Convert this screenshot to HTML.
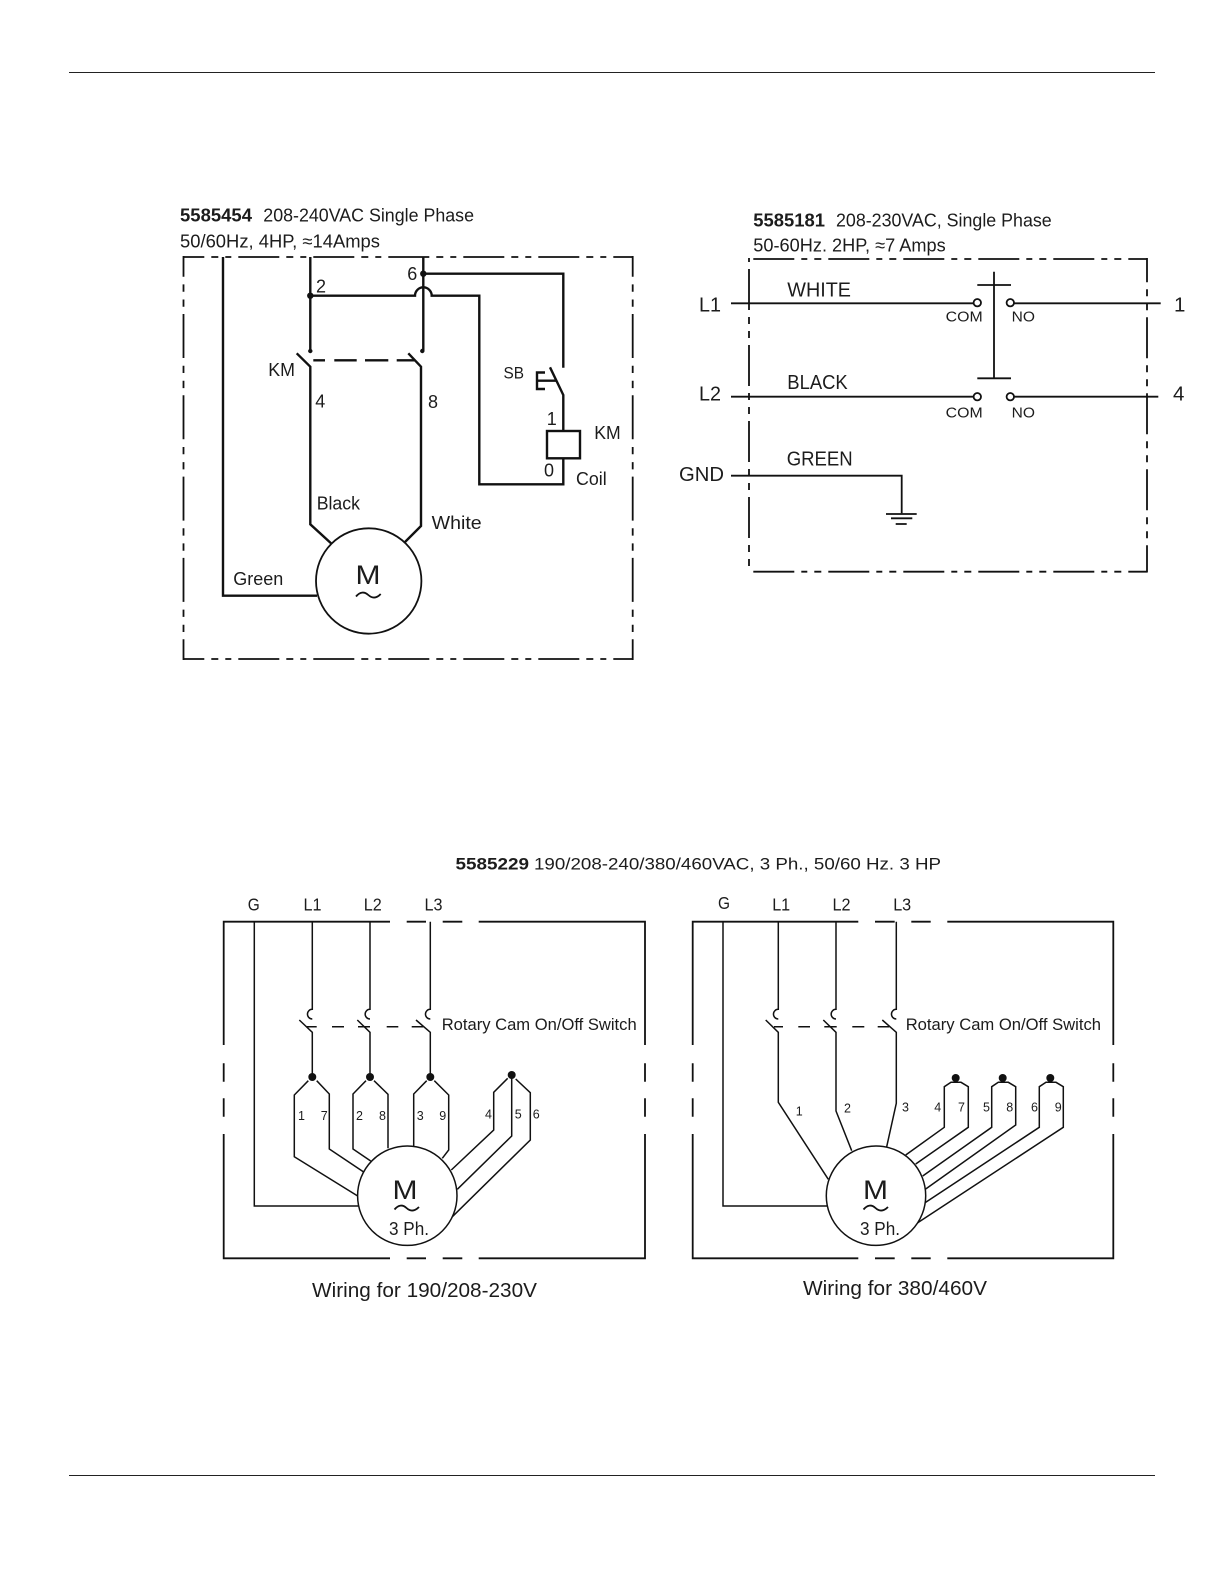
<!DOCTYPE html>
<html><head><meta charset="utf-8"><style>
html,body{margin:0;padding:0;background:#fff}
svg{display:block}
text{font-family:"Liberation Sans",sans-serif;fill:#1c1c1c}
.w{fill:none;stroke:#111;stroke-width:2.4}
.t{fill:none;stroke:#111;stroke-width:1.5}
.m{fill:none;stroke:#111;stroke-width:1.8}
.d{fill:#111;stroke:none}
.c{fill:#fff;stroke:#111;stroke-width:1.8}
</style></head><body>
<svg xmlns="http://www.w3.org/2000/svg" width="1224" height="1584" viewBox="0 0 1224 1584">
<rect width="1224" height="1584" fill="#fff"/>
<rect x="69" y="72" width="1086" height="1" fill="#222"/>
<rect x="69" y="1475" width="1086" height="1" fill="#222"/>

<!-- Diagram 1 -->
<g class="m">
<line x1="183.5" y1="257" x2="632.7" y2="257" stroke-dasharray="41 7 7 7 6 7" stroke-dashoffset="20.2"/>
<line x1="183.5" y1="659" x2="632.7" y2="659" stroke-dasharray="41 7 7 7 6 7" stroke-dashoffset="20.2"/>
<line x1="183.5" y1="256" x2="183.5" y2="660" stroke-dasharray="44 7.7 7.3 7.8 7.3 7.2" stroke-dashoffset="23.3"/>
<line x1="632.7" y1="256" x2="632.7" y2="660" stroke-dasharray="44 7.7 7.3 7.8 7.3 7.2" stroke-dashoffset="23.3"/>
</g>
<g class="w">
<path d="M223 257V595.7H317"/>
<path d="M310.3 257V351"/>
<path d="M423.3 257V351"/>
<path d="M423.3 273.7H563.3V367.7"/>
<path d="M310.3 295.7H415A8.3 8.3 0 0 1 431.7 295.7H479.3V484.3H563.3V458.3"/>
<path d="M296.7 353.3L310.3 366.7V524.3L331 543.3"/>
<path d="M408.3 353.3L421 366.7V526L405 542"/>
<path d="M313.3 360.3H325M334.3 360.3H356.7M365 360.3H388.3M396.7 360.3H415"/>
<path d="M545 372.5H537V389H545M537 380.7H557"/>
<path d="M550 367.3L563.3 395V431"/>
</g>
<circle cx="310.3" cy="295.7" r="3.2" class="d"/>
<circle cx="423.3" cy="273.7" r="3.2" class="d"/>
<circle cx="310.3" cy="351" r="2.2" class="d"/>
<circle cx="422.3" cy="351" r="2.2" class="d"/>
<rect x="547" y="431" width="33" height="27.3" fill="#fff" stroke="#111" stroke-width="2.4"/>
<circle cx="368.7" cy="581" r="52.7" class="c"/>
<path class="m" d="M356 596.5q6-7 12.3-1.5t12.4-1"/>
<text x="180" y="221.7" font-size="18.5" font-weight="700" textLength="72" lengthAdjust="spacingAndGlyphs">5585454</text>
<text x="263.3" y="221.7" font-size="18.5" textLength="210.7" lengthAdjust="spacingAndGlyphs">208-240VAC Single Phase</text>
<text x="180" y="247.3" font-size="18.5" textLength="200" lengthAdjust="spacingAndGlyphs">50/60Hz, 4HP, ≈14Amps</text>
<text x="316" y="292.7" font-size="18">2</text>
<text x="407.3" y="280" font-size="18">6</text>
<text x="268.3" y="376" font-size="18" textLength="26.7" lengthAdjust="spacingAndGlyphs">KM</text>
<text x="315.3" y="407.7" font-size="18">4</text>
<text x="428" y="408" font-size="18">8</text>
<text x="503.5" y="378.3" font-size="17" textLength="20.5" lengthAdjust="spacingAndGlyphs">SB</text>
<text x="546.7" y="425" font-size="18">1</text>
<text x="594.3" y="439" font-size="18" textLength="26.4" lengthAdjust="spacingAndGlyphs">KM</text>
<text x="544" y="476.7" font-size="18">0</text>
<text x="576" y="485" font-size="18" textLength="30.7" lengthAdjust="spacingAndGlyphs">Coil</text>
<text x="316.7" y="509.3" font-size="18" textLength="43.3" lengthAdjust="spacingAndGlyphs">Black</text>
<text x="431.7" y="529" font-size="18" textLength="50" lengthAdjust="spacingAndGlyphs">White</text>
<text x="233.3" y="585" font-size="18" textLength="50" lengthAdjust="spacingAndGlyphs">Green</text>
<text x="355.5" y="584" font-size="27" textLength="25" lengthAdjust="spacingAndGlyphs">M</text>

<!-- Diagram 2 -->
<g class="m">
<line x1="749" y1="259" x2="1147" y2="259" stroke-dasharray="41 7 6 7 7 7" stroke-dashoffset="-4.3"/>
<line x1="749" y1="571.7" x2="1147" y2="571.7" stroke-dasharray="41 7 6 7 7 7" stroke-dashoffset="-4.3"/>
<line x1="749" y1="258" x2="749" y2="571.7" stroke-dasharray="41 7 7 7 7 7" stroke-dashoffset="65"/>
<line x1="1147" y1="258" x2="1147" y2="572.5" stroke-dasharray="41 7 7 7 7 7" stroke-dashoffset="16.7"/>
</g>
<g class="m">
<path d="M731 303.3H973.5M1014 303.3H1160.7"/>
<path d="M731 396.7H973.5M1014 396.7H1158.3"/>
<path d="M731 475.7H901.7V513.3"/>
<path d="M994 271.7V378.3M977.3 285H1011M977.3 378.3H1011"/>
<path d="M886 514H916.7M891 518.3H912.3M895.7 524H906.7"/>
</g>
<circle cx="977.3" cy="302.7" r="3.7" class="c"/>
<circle cx="1010.3" cy="302.7" r="3.7" class="c"/>
<circle cx="977.3" cy="396.7" r="3.7" class="c"/>
<circle cx="1010.3" cy="396.7" r="3.7" class="c"/>
<text x="753.3" y="226.7" font-size="18.5" font-weight="700" textLength="71.7" lengthAdjust="spacingAndGlyphs">5585181</text>
<text x="836" y="226.7" font-size="18.5" textLength="215.7" lengthAdjust="spacingAndGlyphs">208-230VAC, Single Phase</text>
<text x="753.3" y="251.7" font-size="18.5" textLength="192.4" lengthAdjust="spacingAndGlyphs">50-60Hz. 2HP, ≈7 Amps</text>
<text x="699" y="311.7" font-size="20" textLength="22" lengthAdjust="spacingAndGlyphs">L1</text>
<text x="699" y="400.7" font-size="20" textLength="22" lengthAdjust="spacingAndGlyphs">L2</text>
<text x="679" y="481" font-size="20" textLength="45" lengthAdjust="spacingAndGlyphs">GND</text>
<text x="1174" y="311.7" font-size="20.5">1</text>
<text x="1173" y="400.7" font-size="20.5">4</text>
<text x="787.3" y="296.7" font-size="20.5" textLength="63.7" lengthAdjust="spacingAndGlyphs">WHITE</text>
<text x="787.3" y="389" font-size="20.5" textLength="60.4" lengthAdjust="spacingAndGlyphs">BLACK</text>
<text x="786.7" y="465.7" font-size="20.5" textLength="66" lengthAdjust="spacingAndGlyphs">GREEN</text>
<text x="945.7" y="321.7" font-size="15" textLength="37" lengthAdjust="spacingAndGlyphs">COM</text>
<text x="1011.7" y="321.7" font-size="15" textLength="23.3" lengthAdjust="spacingAndGlyphs">NO</text>
<text x="945.7" y="417.7" font-size="15" textLength="37" lengthAdjust="spacingAndGlyphs">COM</text>
<text x="1011.7" y="417.7" font-size="15" textLength="23.3" lengthAdjust="spacingAndGlyphs">NO</text>

<!-- Diagram 3 title -->
<text x="455.5" y="869.6" font-size="17" font-weight="700" textLength="73.5" lengthAdjust="spacingAndGlyphs">5585229</text>
<text x="534" y="869.6" font-size="17" textLength="407" lengthAdjust="spacingAndGlyphs">190/208-240/380/460VAC, 3 Ph., 50/60 Hz. 3 HP</text>

<!-- Diagram 3 left -->
<path class="m" d="M223.7 1045V921.7H390M406.7 921.7H426M442.7 921.7H462.3M478.7 921.7H645V1045M645 1063.3V1081.7M645 1098.3V1116.7M645 1134V1258.3H478.7M462.3 1258.3H442.7M426 1258.3H406.7M390 1258.3H223.7V1134M223.7 1116.7V1098.3M223.7 1081.7V1063.3"/>
<g class="t">
<path d="M254.3 921.7V1206H358.3"/>
<path d="M312.3 921.7V1009.3A4.8 4.8 0 0 0 312.3 1019M299.3 1020L312.3 1032.3V1077"/>
<path d="M370 921.7V1009.3A4.8 4.8 0 0 0 370 1019M357.3 1020L370 1032.3V1077"/>
<path d="M430.3 921.7V1009.3A4.8 4.8 0 0 0 430.3 1019M416 1020L430.3 1032.3V1077"/>
<path d="M306.7 1026.7H316.7M332 1026.7H344M358 1026.7H370M386.7 1026.7H398.3M411.7 1026.7H423.3"/>
<path d="M308.3 1080.7L294.3 1095V1156.7L357.7 1196"/>
<path d="M316.7 1080.7L329.3 1094V1149L363.3 1171.7"/>
<path d="M366 1080.7L353 1094V1149L370.7 1161"/>
<path d="M374 1080.7L388 1094.3V1148.3"/>
<path d="M426.7 1080.7L413.7 1094V1146"/>
<path d="M434.3 1080.7L448.7 1095V1150L442.3 1158.3"/>
<path d="M507.7 1078.3L493.7 1092.3V1130L451.3 1170"/>
<path d="M511.7 1075V1136L457.3 1189.3"/>
<path d="M515.7 1079L530.3 1092.7V1140L450.7 1218.3"/>
</g>
<circle cx="312.3" cy="1077" r="4" class="d"/>
<circle cx="370" cy="1077" r="4" class="d"/>
<circle cx="430.3" cy="1077" r="4" class="d"/>
<circle cx="511.7" cy="1075" r="4" class="d"/>
<circle cx="407.3" cy="1195.7" r="49.7" fill="#fff" stroke="#111" stroke-width="1.5"/>
<path class="m" d="M394.5 1209.5q6-7 12-1.5t12.5-1"/>
<text x="392.5" y="1199" font-size="27" textLength="25" lengthAdjust="spacingAndGlyphs">M</text>
<text x="389" y="1235" font-size="18.5" textLength="40" lengthAdjust="spacingAndGlyphs">3 Ph.</text>
<g font-size="12.5">
<text x="298" y="1120">1</text><text x="320.7" y="1120">7</text><text x="356" y="1120">2</text><text x="379" y="1120">8</text><text x="416.7" y="1120">3</text><text x="439.3" y="1120">9</text>
<text x="485" y="1118.3">4</text><text x="514.7" y="1118.3">5</text><text x="532.7" y="1118.3">6</text>
</g>
<g font-size="17.5">
<text x="247.7" y="910.7" textLength="12" lengthAdjust="spacingAndGlyphs">G</text>
<text x="303.5" y="910.7" textLength="18" lengthAdjust="spacingAndGlyphs">L1</text>
<text x="363.8" y="910.7" textLength="18" lengthAdjust="spacingAndGlyphs">L2</text>
<text x="424.5" y="910.7" textLength="18" lengthAdjust="spacingAndGlyphs">L3</text>
</g>
<text x="441.7" y="1030" font-size="16.8" textLength="195" lengthAdjust="spacingAndGlyphs">Rotary Cam On/Off Switch</text>
<text x="312" y="1297" font-size="20" textLength="225" lengthAdjust="spacingAndGlyphs">Wiring for 190/208-230V</text>

<!-- Diagram 3 right -->
<path class="m" d="M692.7 1045V921.7H858.3M875 921.7H894.7M911.3 921.7H930.7M947.3 921.7H1113.3V1045M1113.3 1063.3V1081.7M1113.3 1098.3V1116.7M1113.3 1134V1258.3H947.3M930.7 1258.3H911.3M894.7 1258.3H875M858.3 1258.3H692.7V1134M692.7 1116.7V1098.3M692.7 1081.7V1063.3"/>
<g class="t">
<path d="M723 921.7V1206H827.3"/>
<path d="M778.3 921.7V1009.3A4.8 4.8 0 0 0 778.3 1019M765.7 1020L778.3 1032.3V1102.3L828.3 1179.3"/>
<path d="M836 921.7V1009.3A4.8 4.8 0 0 0 836 1019M823.3 1020L836 1032.3V1111L851.7 1150.7"/>
<path d="M896.3 921.7V1009.3A4.8 4.8 0 0 0 896.3 1019M882.3 1020L896.3 1032.3V1103.3L886.7 1146.7"/>
<path d="M774 1026.7H783M798.3 1026.7H810M824.3 1026.7H836.7M852.3 1026.7H864.3M877.7 1026.7H889.3"/>
<path d="M905.7 1155L944.3 1127.3V1086.7L951 1082.3H961L968.3 1086.7V1127.3L915.7 1164"/>
<path d="M922.7 1176L991.7 1127.3V1086.7L998.3 1082.3H1008.3L1015.7 1086.7V1125L925.7 1189"/>
<path d="M925 1202.7L1039.3 1127.3V1086.7L1046 1082.3H1056L1063.3 1086.7V1127.3L917.7 1222.7"/>
</g>
<circle cx="955.7" cy="1078" r="4" class="d"/>
<circle cx="1002.7" cy="1078" r="4" class="d"/>
<circle cx="1050.3" cy="1078" r="4" class="d"/>
<circle cx="876" cy="1195.7" r="49.7" fill="#fff" stroke="#111" stroke-width="1.5"/>
<path class="m" d="M863.5 1209.5q6-7 12-1.5t12.5-1"/>
<text x="863" y="1199" font-size="27" textLength="25" lengthAdjust="spacingAndGlyphs">M</text>
<text x="860" y="1235" font-size="18.5" textLength="40" lengthAdjust="spacingAndGlyphs">3 Ph.</text>
<g font-size="12.5">
<text x="795.7" y="1115.7">1</text><text x="844" y="1112.7">2</text><text x="902" y="1111.7">3</text>
<text x="934.3" y="1111.7">4</text><text x="958" y="1111.7">7</text><text x="983" y="1111.7">5</text><text x="1006.3" y="1111.7">8</text><text x="1031" y="1111.7">6</text><text x="1054.7" y="1111.7">9</text>
</g>
<g font-size="17.5">
<text x="718" y="909" textLength="12" lengthAdjust="spacingAndGlyphs">G</text>
<text x="772.2" y="910.7" textLength="18" lengthAdjust="spacingAndGlyphs">L1</text>
<text x="832.5" y="910.7" textLength="18" lengthAdjust="spacingAndGlyphs">L2</text>
<text x="893.2" y="910.7" textLength="18" lengthAdjust="spacingAndGlyphs">L3</text>
</g>
<text x="905.7" y="1030" font-size="16.8" textLength="195.3" lengthAdjust="spacingAndGlyphs">Rotary Cam On/Off Switch</text>
<text x="803" y="1295" font-size="20" textLength="184" lengthAdjust="spacingAndGlyphs">Wiring for 380/460V</text>
</svg>
</body></html>
